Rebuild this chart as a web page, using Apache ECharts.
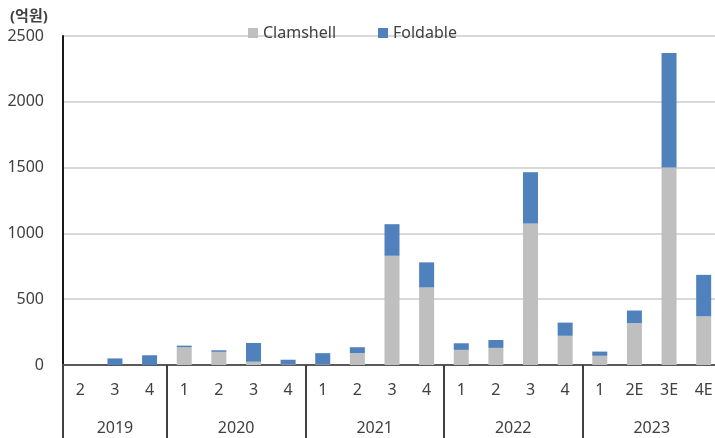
<!DOCTYPE html>
<html>
<head>
<meta charset="utf-8">
<script src="https://cdn.jsdelivr.net/npm/echarts@6/dist/echarts.min.js"></script>
<style>
html,body{margin:0;padding:0;background:#fff;}
#chart{width:715px;height:438px;}
</style>
</head>
<body>
<div id="chart"></div>
<script>
// 분기 라벨
var quarters = ['2','3','4', '1','2','3','4', '1','2','3','4', '1','2','3','4', '1','2E','3E','4E'];
// 연도 라벨 + 연도별 분기 수
var years = ['2019','2020','2021','2022','2023'];
var yearSizes = [3,4,4,4,4];
// 억원
var clamshell = [0,0,0, 135,100,25,5, 5,90,830,590, 115,130,1075,222, 70,318,1500,370];
var foldable = [0,50,74, 12,12,142,35, 85,45,240,190, 50,60,390,100, 32,96,870,315];
var yTicks = [0,500,1000,1500,2000,2500];

var font = '"Noto Sans", "Noto Sans CJK KR", sans-serif';
var txtColor = '#404040';

// 연도 구분선 위치, 연도 라벨 위치
var yearBounds = [0];
var yearCenters = [];
var acc = 0;
for (var i = 0; i < yearSizes.length; i++) {
    yearCenters.push(acc + yearSizes[i] / 2);
    acc += yearSizes[i];
    yearBounds.push(acc);
}

var chart = echarts.init(document.getElementById('chart'));
var option = {
    animation: false,
    textStyle: {fontFamily: font},
    title: {
        text: '(억원)',
        left: 5,
        top: 4,
        textStyle: {fontSize: 15, fontWeight: 'bold', color: txtColor, fontFamily: font}
    },
    legend: {
        left: 243,
        top: 20,
        itemWidth: 10,
        itemHeight: 10,
        itemGap: 42,
        icon: 'rect',
        textStyle: {fontSize: 16, color: txtColor, fontFamily: font},
        data: ['Clamshell', 'Foldable']
    },
    grid: {
        left: 63,
        right: -6,
        top: 36,
        bottom: 73,
        containLabel: false,
        outerBoundsMode: 'none'
    },
    xAxis: [{
        type: 'category',
        position: 'bottom',
        data: quarters,
        axisLine: {lineStyle: {color: '#595959', width: 2}},
        axisTick: {show: false},
        axisLabel: {margin: 17, fontSize: 16, color: txtColor, fontFamily: font, interval: 0}
    }, {
        type: 'value',
        position: 'bottom',
        min: 0,
        max: quarters.length,
        axisLine: {show: false},
        splitLine: {show: false},
        axisTick: {
            show: true,
            customValues: yearBounds,
            length: 74,
            lineStyle: {color: '#404040', width: 2}
        },
        axisLabel: {
            customValues: yearCenters,
            margin: 55,
            fontSize: 16,
            color: txtColor,
            fontFamily: font,
            formatter: function (v) {
                var idx = yearCenters.indexOf(v);
                return idx >= 0 ? years[idx] : '';
            }
        }
    }],
    yAxis: {
        type: 'value',
        min: yTicks[0],
        max: yTicks[yTicks.length - 1],
        interval: 500,
        axisLine: {show: true, lineStyle: {color: '#1a1a1a', width: 2}},
        axisTick: {show: false},
        axisLabel: {
            margin: 19,
            fontSize: 16,
            color: txtColor,
            fontFamily: font,
            formatter: function (v) { return String(v); }
        },
        splitLine: {lineStyle: {color: '#d9d9d9', width: 2}}
    },
    series: [{
        name: 'Clamshell',
        type: 'bar',
        stack: 'total',
        barWidth: 15,
        itemStyle: {color: '#bfbfbf'},
        data: clamshell
    }, {
        name: 'Foldable',
        type: 'bar',
        stack: 'total',
        barWidth: 15,
        itemStyle: {color: '#4f81bd'},
        data: foldable
    }]
};
chart.setOption(option);
</script>
</body>
</html>
